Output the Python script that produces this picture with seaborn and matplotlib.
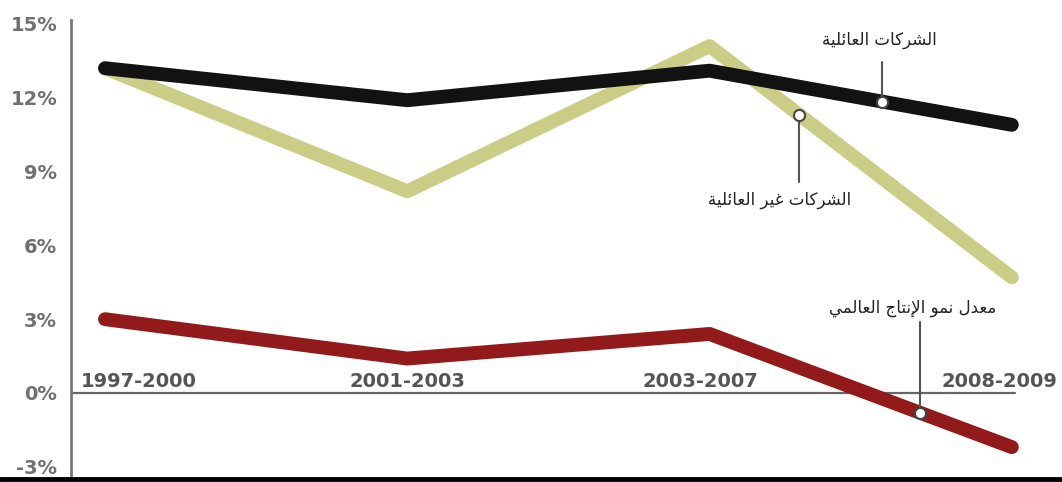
import numpy as np
import pandas as pd
import matplotlib
matplotlib.use("Agg")
import matplotlib.pyplot as plt
from matplotlib.lines import Line2D
import seaborn as sns

# ---------------- data ----------------
periods = ["1997-2000", "2001-2003", "2003-2007", "2008-2009"]
family = [13.2, 11.9, 13.1, 10.9]
non_family = [13.2, 8.2, 14.1, 4.7]
world_growth = [3.0, 1.4, 2.4, -2.2]
yticks = [-3, 0, 3, 6, 9, 12, 15]
lbl_family = "الشركات العائلية"
lbl_nonfamily = "الشركات غير العائلية"
lbl_world = "معدل نمو الإنتاج العالمي"

# ------------- minimal Arabic shaping (matplotlib has no shaping) -------------
FORMS = {
    "ا": (0xFE8D, 0xFE8E, None, None), "إ": (0xFE87, 0xFE88, None, None),
    "ل": (0xFEDD, 0xFEDE, 0xFEDF, 0xFEE0), "ش": (0xFEB5, 0xFEB6, 0xFEB7, 0xFEB8),
    "ر": (0xFEAD, 0xFEAE, None, None), "ك": (0xFED9, 0xFEDA, 0xFEDB, 0xFEDC),
    "ت": (0xFE95, 0xFE96, 0xFE97, 0xFE98), "ع": (0xFEC9, 0xFECA, 0xFECB, 0xFECC),
    "ئ": (0xFE89, 0xFE8A, 0xFE8B, 0xFE8C), "ي": (0xFEF1, 0xFEF2, 0xFEF3, 0xFEF4),
    "ة": (0xFE93, 0xFE94, None, None), "غ": (0xFECD, 0xFECE, 0xFECF, 0xFED0),
    "م": (0xFEE1, 0xFEE2, 0xFEE3, 0xFEE4), "د": (0xFEA9, 0xFEAA, None, None),
    "ن": (0xFEE5, 0xFEE6, 0xFEE7, 0xFEE8), "و": (0xFEED, 0xFEEE, None, None),
    "ج": (0xFE9D, 0xFE9E, 0xFE9F, 0xFEA0),
    "لا": (0xFEFB, 0xFEFC, None, None), "لإ": (0xFEF9, 0xFEFA, None, None),
    "لأ": (0xFEF7, 0xFEF8, None, None),
}


def shape(s):
    toks = []
    i = 0
    while i < len(s):
        if s[i] == "ل" and i + 1 < len(s) and s[i:i + 2] in FORMS:
            toks.append(s[i:i + 2]); i += 2
        else:
            toks.append(s[i]); i += 1
    out = []
    for k, t in enumerate(toks):
        if t not in FORMS:
            out.append(t); continue
        prev = toks[k - 1] if k > 0 else None
        nxt = toks[k + 1] if k + 1 < len(toks) else None
        jp = prev in FORMS and FORMS[prev][2] is not None
        jn = FORMS[t][2] is not None and nxt in FORMS
        f = FORMS[t]
        code = f[3] if (jp and jn) else f[1] if jp else f[2] if jn else f[0]
        out.append(chr(code))
    return "".join(out)[::-1]


# ---------------- figure ----------------
sns.set_style("white")
plt.rcParams["font.family"] = ["DejaVu Sans"]

fig = plt.figure(figsize=(10.62, 4.82), dpi=100)
ax = fig.add_axes([71 / 1062, 4 / 482, 991 / 1062, 458 / 482])

x = np.arange(len(periods))
df = pd.DataFrame({
    "x": np.tile(x, 3),
    "value": family + non_family + world_growth,
    "series": ["family"] * 4 + ["nonfamily"] * 4 + ["world"] * 4,
})
palette = {"nonfamily": "#cbcd86", "family": "#121212", "world": "#921a1a"}
for s in ["nonfamily", "family", "world"]:
    sns.lineplot(data=df[df.series == s], x="x", y="value", color=palette[s],
                 lw=10, ax=ax, sort=False, legend=False,
                 solid_capstyle="round", solid_joinstyle="round", zorder=3)

ax.set_xlim(-0.1125, 3.166)
ax.set_ylim(-3.455, 15.16)
ax.set_xticks([])
ax.set_yticks(yticks)
ax.set_yticklabels([f"{v}%" for v in yticks], fontsize=14, fontweight="bold",
                   color="#707070")
ax.tick_params(axis="y", length=0, pad=10)
ax.set_xlabel("")
ax.set_ylabel("")
for sp in ["top", "right", "bottom"]:
    ax.spines[sp].set_visible(False)
ax.spines["left"].set_color("#7a7a7a")
ax.spines["left"].set_linewidth(2)

# zero line
ax.plot([-0.1125, 3.01], [0, 0], color="#666666", lw=1.6, zorder=2)

# period labels just above the zero line
pos = [(-0.08, "left"), (1.0, "center"), (1.97, "center"), (3.15, "right")]
for (px, ha), lab in zip(pos, periods):
    ax.text(px, 0.25, lab, ha=ha, va="baseline", fontsize=14, fontweight="bold",
            color="#555555", zorder=4)

# callouts
def callout(series, xc, y_end, text_xy, label):
    yc = np.interp(xc, x, series)
    ax.plot([xc, xc], [yc, y_end], color="#555555", lw=1.5, zorder=5)
    ax.plot([xc], [yc], marker="o", ms=8, mfc="white", mec="#444444", mew=1.5,
            zorder=6)
    ax.text(text_xy[0], text_xy[1], shape(label), ha="center", va="center",
            fontsize=12, color="#222222", zorder=6)

callout(family, 2.57, 13.45, (2.563, 14.35), lbl_family)
callout(non_family, 2.296, 8.58, (2.233, 7.85), lbl_nonfamily)
callout(world_growth, 2.696, 2.89, (2.673, 3.45), lbl_world)

# thick black rule at the bottom
fig.add_artist(Line2D([0, 1], [3 / 482, 3 / 482], color="black", lw=3.5,
                      transform=fig.transFigure))

fig.savefig("out.png", dpi=100)
